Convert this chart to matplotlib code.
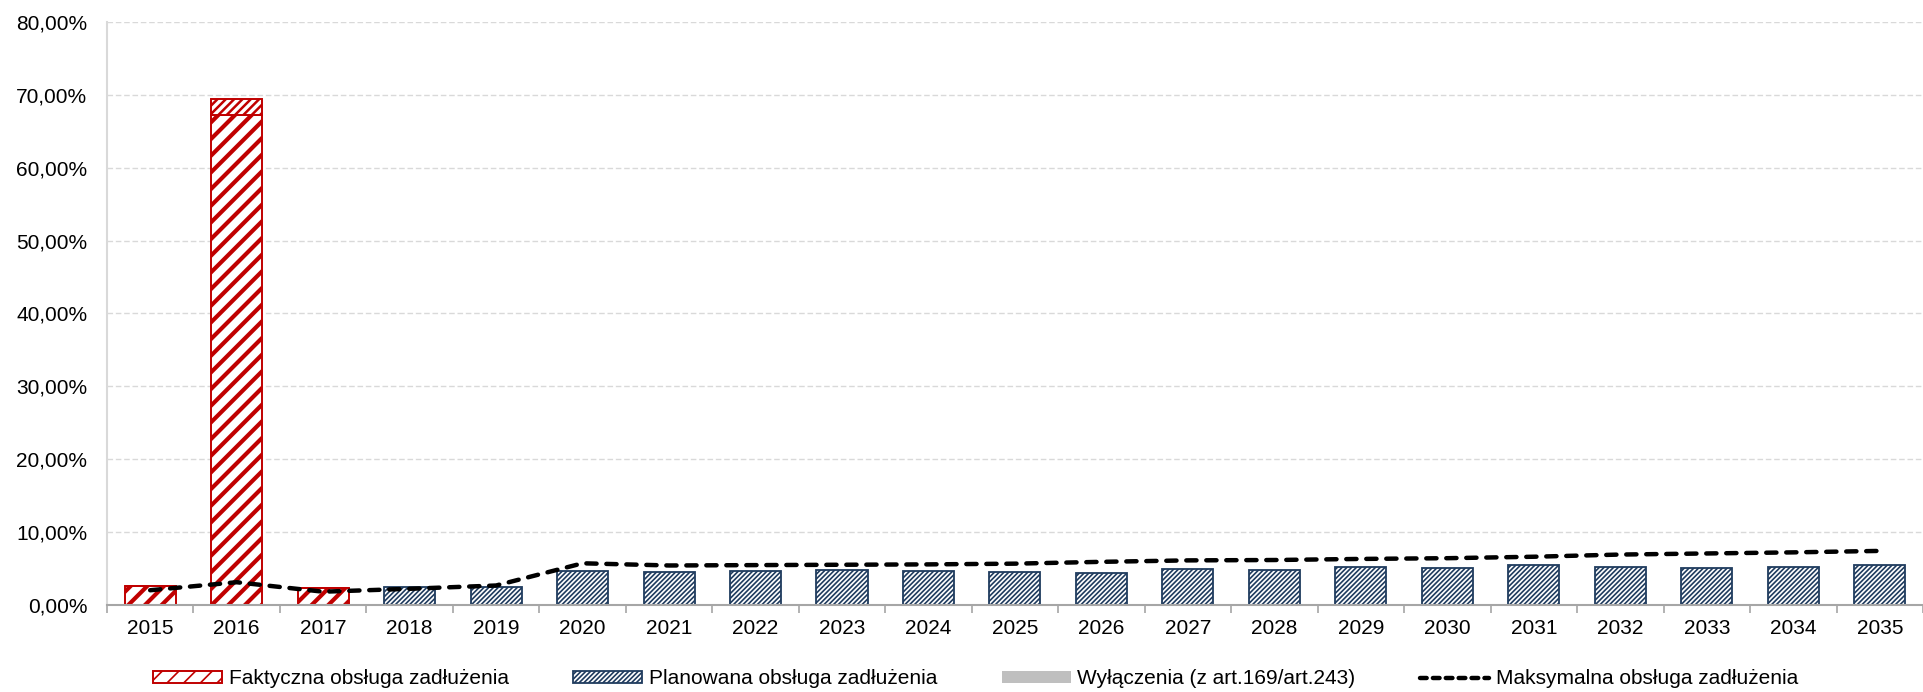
import numpy as np
import matplotlib.pyplot as plt
from matplotlib.ticker import FuncFormatter, MultipleLocator
from matplotlib.lines import Line2D

plt.rcParams['font.family'] = ['Liberation Sans', 'DejaVu Sans']

lata = [str(r) for r in range(2015, 2036)]
faktyczna = [2.6, 67.3, 2.3]
faktyczna_gora = [0.0, 2.2, 0.0]
planowana = [0.0, 0.0, 0.0, 2.4, 2.5, 4.6, 4.5, 4.6, 4.8, 4.7, 4.5,
             4.4, 4.9, 4.75, 5.2, 5.0, 5.5, 5.25, 5.0, 5.15, 5.4]
wylaczenia = [0.0] * 21
maksymalna = [2.0, 3.1, 1.8, 2.2, 2.65, 5.7, 5.4, 5.45, 5.5, 5.55, 5.65,
              5.9, 6.1, 6.15, 6.3, 6.4, 6.6, 6.9, 7.05, 7.2, 7.4]

CZERWONY = '#C00000'
GRANAT = '#1F3B5E'
SZARY = '#BFBFBF'
FS = 15


def hatch_lw(bars, lw):
    for b in bars:
        if hasattr(b, 'set_hatch_linewidth'):
            b.set_hatch_linewidth(lw)


def procent(v, pos):
    return ('%.2f%%' % v).replace('.', ',')


def main():
    fig = plt.figure(figsize=(19.23, 6.92), dpi=100)
    ax = fig.add_axes([0.0556, 0.126, 0.9444, 0.842])
    x = np.arange(len(lata))
    w = 0.59

    plt.rcParams['hatch.linewidth'] = 3.0
    b_fakt = ax.bar(x[:3], faktyczna, w, color='white', edgecolor=CZERWONY,
                    hatch='//', linewidth=1.4, zorder=2,
                    label='Faktyczna obsługa zadłużenia')
    hatch_lw(b_fakt, 3.0)
    plt.rcParams['hatch.linewidth'] = 1.8
    b_gora = ax.bar(x[:3], faktyczna_gora, w, bottom=faktyczna, color='white',
                    edgecolor=CZERWONY, hatch='////', linewidth=1.4, zorder=2)
    hatch_lw(b_gora, 1.8)
    plt.rcParams['hatch.linewidth'] = 1.2
    b_plan = ax.bar(x, planowana, w, color='white', edgecolor=GRANAT,
                    hatch='///////', linewidth=1.3, zorder=2,
                    label='Planowana obsługa zadłużenia')
    hatch_lw(b_plan, 1.2)
    b_wyl = ax.bar(x, wylaczenia, w, color=SZARY, edgecolor='none', zorder=2,
                   label='Wyłączenia (z art.169/art.243)')

    ax.plot(x, maksymalna, color='black', lw=3.2, dashes=(2.3, 2.2),
            dash_capstyle='round', zorder=3)
    h_max = Line2D([], [], color='black', lw=3.2, dashes=(1.5, 1.4),
                   dash_capstyle='round', label='Maksymalna obsługa zadłużenia')

    ax.set_xlim(-0.5, len(lata) - 0.5)
    ax.set_ylim(0, 80)
    ax.yaxis.set_major_locator(MultipleLocator(10))
    ax.yaxis.set_major_formatter(FuncFormatter(procent))
    ax.set_xticks(x)
    ax.set_xticklabels(lata)
    ax.set_xticks(np.arange(-0.5, len(lata)), minor=True)
    ax.tick_params(axis='x', which='major', length=0, pad=10, labelsize=FS)
    ax.tick_params(axis='x', which='minor', length=6, width=1.2, color='#A6A6A6')
    ax.tick_params(axis='y', length=0, pad=14, labelsize=FS)

    ax.grid(axis='y', color='#D9D9D9', linestyle=(0, (4, 2)), lw=1, zorder=0)
    ax.set_axisbelow(True)
    for s in ['top', 'right']:
        ax.spines[s].set_visible(False)
    ax.spines['left'].set_color('#D9D9D9')
    ax.spines['left'].set_linewidth(1.5)
    ax.spines['bottom'].set_color('#A6A6A6')
    ax.spines['bottom'].set_linewidth(1.5)

    # legenda pod osią, w jednym rzędzie
    fig.legend(handles=[b_fakt, b_plan, b_wyl, h_max], ncol=4,
               loc='center left', bbox_to_anchor=(153 / 1923, 13 / 692),
               frameon=False, fontsize=FS, borderpad=0, borderaxespad=0,
               handlelength=3.3, handleheight=0.55, handletextpad=0.33,
               columnspacing=3.1)

    fig.savefig('out.png', dpi=100)


if __name__ == "__main__":
    main()
